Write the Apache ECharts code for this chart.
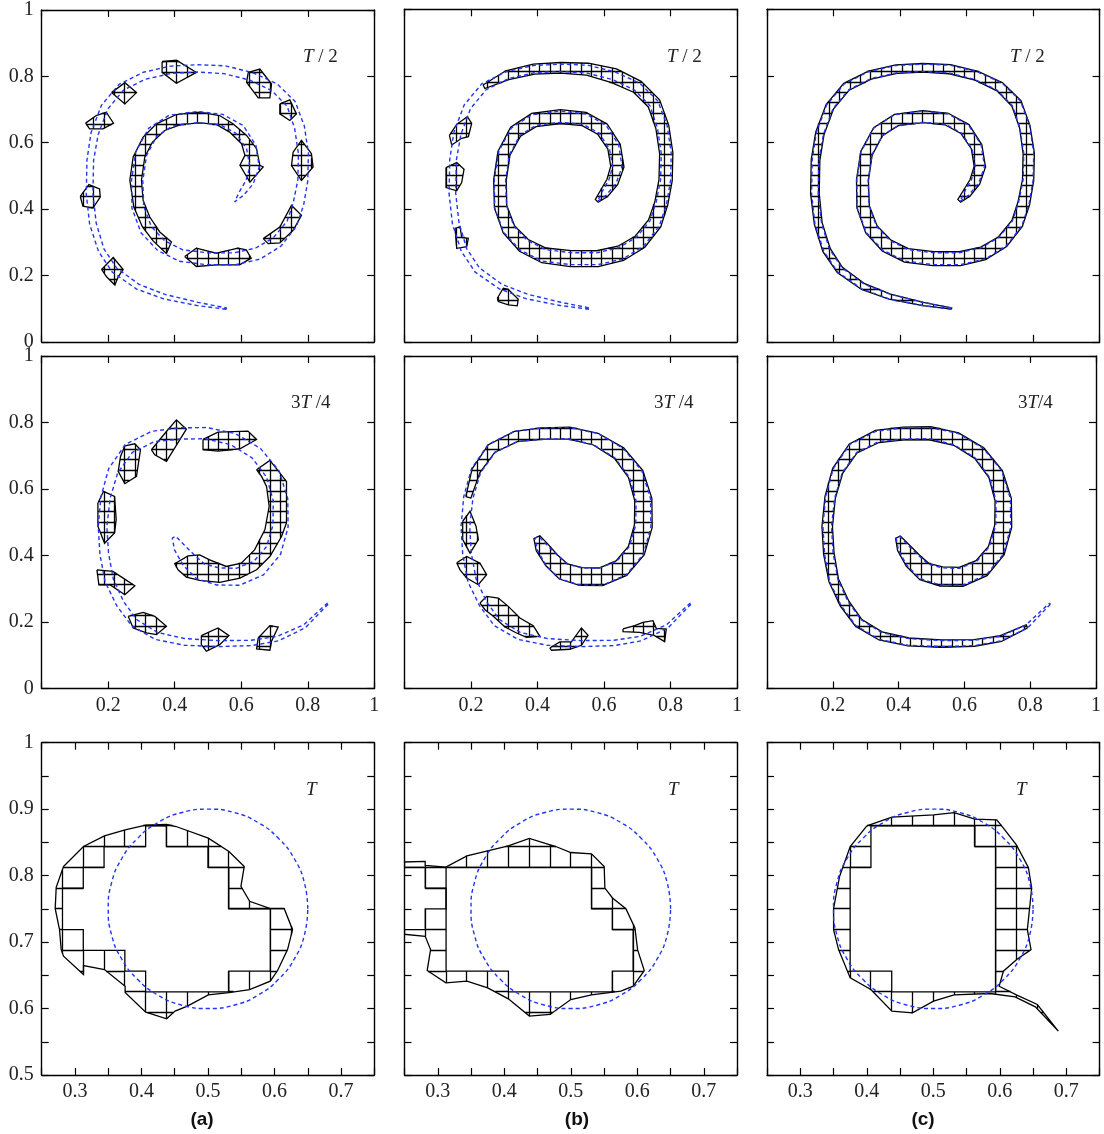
<!DOCTYPE html>
<html><head><meta charset="utf-8">
<script src="https://cdn.jsdelivr.net/npm/echarts@6/dist/echarts.min.js"></script>
<style>html,body{margin:0;padding:0;background:#fff}#c{width:1104px;height:1134px}</style>
</head><body><div id="c"></div>
<script>
// ---------- tick labels / texts ----------
const spiralYLabels = ['0', '0.2', '0.4', '0.6', '0.8', '1'];
const spiralXLabels = ['0.2', '0.4', '0.6', '0.8', '1'];
const circleXLabels = ['0.3', '0.4', '0.5', '0.6', '0.7'];
const circleYLabels = ['0.5', '0.6', '0.7', '0.8', '0.9', '1'];
const timeLabels = [['{i|T} / 2', '{i|T} / 2', '{i|T} / 2'], ['3{i|T} /4', '3{i|T} /4', '3{i|T}/4'], ['{i|T}', '{i|T}', '{i|T}']];
const panelLetters = ['(a)', '(b)', '(c)'];
const GRID_N = 32; // mesh cells per unit

// ---------- reference interface (blue) ----------
const t2Center = [[0.555,0.100],[0.469,0.114],[0.369,0.136],[0.289,0.166],[0.219,0.216],[0.179,0.276],[0.154,0.356],[0.144,0.446],[0.146,0.547],[0.159,0.627],[0.189,0.707],[0.239,0.767],[0.309,0.802],[0.389,0.820],[0.469,0.824],[0.550,0.820],[0.630,0.800],[0.700,0.767],[0.750,0.717],[0.775,0.647],[0.787,0.567],[0.785,0.486],[0.772,0.416],[0.752,0.356],[0.708,0.301],[0.650,0.266],[0.580,0.250],[0.500,0.250],[0.419,0.260],[0.359,0.290],[0.314,0.338],[0.289,0.406],[0.287,0.486],[0.299,0.567],[0.334,0.632],[0.389,0.667],[0.469,0.677],[0.540,0.670],[0.595,0.640],[0.630,0.587],[0.640,0.527],[0.625,0.481],[0.600,0.446],[0.578,0.424]];
const t2Hw = [0.002,0.005,0.007,0.008,0.009,0.009,0.010,0.010,0.010,0.011,0.011,0.011,0.011,0.011,0.011,0.012,0.012,0.013,0.014,0.015,0.015,0.015,0.016,0.016,0.017,0.018,0.018,0.018,0.018,0.018,0.018,0.018,0.017,0.017,0.017,0.017,0.017,0.016,0.016,0.015,0.014,0.012,0.008,0.003];
const t34Center = [[0.860,0.255],[0.790,0.187],[0.710,0.150],[0.630,0.137],[0.530,0.135],[0.430,0.140],[0.345,0.158],[0.278,0.198],[0.236,0.255],[0.203,0.325],[0.188,0.405],[0.183,0.487],[0.192,0.575],[0.215,0.655],[0.262,0.722],[0.335,0.758],[0.415,0.767],[0.495,0.768],[0.575,0.750],[0.645,0.708],[0.695,0.645],[0.718,0.568],[0.718,0.488],[0.697,0.415],[0.652,0.362],[0.590,0.336],[0.530,0.337],[0.478,0.352],[0.443,0.385],[0.413,0.425],[0.398,0.455]];
const t34Hw = [0.002,0.005,0.007,0.008,0.009,0.010,0.011,0.012,0.012,0.013,0.013,0.013,0.014,0.015,0.016,0.016,0.017,0.017,0.018,0.019,0.021,0.022,0.023,0.024,0.025,0.026,0.026,0.025,0.023,0.016,0.006];
const circleT = [[0.650,0.750],[0.645,0.789],[0.630,0.825],[0.606,0.856],[0.575,0.880],[0.539,0.895],[0.500,0.900],[0.461,0.895],[0.425,0.880],[0.394,0.856],[0.370,0.825],[0.355,0.789],[0.350,0.750],[0.355,0.711],[0.370,0.675],[0.394,0.644],[0.425,0.620],[0.461,0.605],[0.500,0.600],[0.539,0.605],[0.575,0.620],[0.606,0.644],[0.630,0.675],[0.645,0.711]];

// ---------- computed interfaces (black meshes) ----------
const hwB1 = [0,0,0,0,0,0,0,0,0,0,0,0.006,0.014,0.015,0.016,0.018,0.022,0.020,0.020,0.020,0.020,0.020,0.020,0.021,0.022,0.023,0.024,0.024,0.023,0.022,0.020,0.019,0.019,0.019,0.020,0.021,0.021,0.021,0.021,0.020,0.020,0.018,0.014,0.006];
const hwC1 = [0.002,0.005,0.008,0.010,0.011,0.012,0.012,0.013,0.013,0.013,0.013,0.013,0.013,0.013,0.013,0.014,0.014,0.015,0.016,0.016,0.017,0.017,0.018,0.018,0.019,0.020,0.021,0.021,0.021,0.021,0.020,0.019,0.018,0.018,0.018,0.018,0.018,0.018,0.018,0.017,0.017,0.016,0.013,0.006];
const hwB2 = [0,0,0,0,0,0,0,0,0,0,0,0,0.008,0.013,0.015,0.016,0.017,0.018,0.019,0.021,0.024,0.026,0.027,0.027,0.027,0.027,0.027,0.026,0.024,0.020,0.010];
const hwC2 = [0,0.005,0.009,0.010,0.011,0.012,0.013,0.014,0.015,0.015,0.016,0.016,0.016,0.017,0.018,0.019,0.019,0.020,0.020,0.021,0.023,0.025,0.026,0.027,0.028,0.029,0.029,0.028,0.026,0.019,0.008];

const a1InnerCoil = [[0.375,0.266],[0.335,0.304],[0.303,0.346],[0.277,0.406],[0.265,0.487],[0.275,0.557],[0.305,0.617],[0.345,0.657],[0.405,0.685],[0.475,0.692],[0.535,0.682],[0.575,0.657],[0.616,0.622],[0.646,0.582],[0.656,0.532],[0.666,0.527],[0.626,0.481],[0.596,0.532],[0.611,0.562],[0.601,0.597],[0.565,0.632],[0.525,0.655],[0.475,0.660],[0.420,0.655],[0.370,0.637],[0.333,0.602],[0.310,0.557],[0.300,0.487],[0.305,0.426],[0.325,0.376],[0.355,0.331],[0.390,0.301]];
const a1Bottom = [[0.430,0.257],[0.465,0.282],[0.525,0.267],[0.590,0.282],[0.615,0.277],[0.630,0.252],[0.595,0.232],[0.525,0.232],[0.465,0.227]];
const a1Blobs = [
  [[0.362,0.844],[0.405,0.849],[0.465,0.812],[0.405,0.779],[0.362,0.812]],
  [[0.621,0.812],[0.656,0.822],[0.691,0.777],[0.686,0.735],[0.651,0.735],[0.616,0.782]],
  [[0.716,0.717],[0.746,0.729],[0.766,0.687],[0.746,0.667],[0.716,0.687]],
  [[0.756,0.572],[0.781,0.607],[0.811,0.567],[0.816,0.527],[0.781,0.486],[0.751,0.531]],
  [[0.666,0.311],[0.716,0.346],[0.751,0.411],[0.781,0.381],[0.756,0.336],[0.716,0.298],[0.681,0.296]],
  [[0.210,0.751],[0.250,0.781],[0.285,0.751],[0.250,0.717]],
  [[0.132,0.659],[0.164,0.682],[0.194,0.692],[0.216,0.659],[0.184,0.642],[0.144,0.642]],
  [[0.116,0.438],[0.142,0.474],[0.174,0.461],[0.176,0.436],[0.154,0.403],[0.124,0.409]],
  [[0.180,0.218],[0.215,0.254],[0.245,0.218],[0.230,0.196],[0.220,0.171],[0.195,0.196]]
];
const b1Blobs = [
  [[0.135,0.621],[0.157,0.654],[0.189,0.677],[0.202,0.657],[0.192,0.617],[0.172,0.612],[0.142,0.592]],
  [[0.125,0.524],[0.157,0.539],[0.179,0.519],[0.172,0.479],[0.157,0.454],[0.125,0.464]],
  [[0.152,0.341],[0.167,0.346],[0.172,0.314],[0.192,0.311],[0.187,0.286],[0.157,0.281]],
  [[0.279,0.131],[0.297,0.161],[0.312,0.158],[0.342,0.128],[0.339,0.108],[0.312,0.111],[0.282,0.121]]
];
const a2Blobs = [
  [[0.250,0.730],[0.280,0.736],[0.297,0.718],[0.285,0.638],[0.250,0.616],[0.230,0.653],[0.237,0.698]],
  [[0.330,0.718],[0.375,0.773],[0.405,0.808],[0.435,0.780],[0.415,0.748],[0.375,0.683],[0.340,0.703]],
  [[0.485,0.749],[0.530,0.771],[0.620,0.774],[0.646,0.749],[0.596,0.721],[0.530,0.714],[0.485,0.718]],
  [[0.646,0.658],[0.686,0.686],[0.736,0.623],[0.736,0.498],[0.721,0.457],[0.686,0.397],[0.646,0.357],[0.596,0.332],[0.535,0.319],[0.475,0.325],[0.435,0.335],[0.410,0.357],[0.400,0.375],[0.440,0.399],[0.475,0.402],[0.505,0.387],[0.555,0.367],[0.600,0.377],[0.640,0.417],[0.671,0.477],[0.684,0.548],[0.676,0.608],[0.661,0.638]],
  [[0.169,0.558],[0.186,0.593],[0.219,0.578],[0.224,0.508],[0.219,0.468],[0.189,0.437],[0.169,0.488]],
  [[0.166,0.357],[0.214,0.352],[0.245,0.332],[0.280,0.309],[0.250,0.282],[0.205,0.312],[0.172,0.312]],
  [[0.260,0.217],[0.305,0.229],[0.340,0.217],[0.375,0.187],[0.345,0.162],[0.315,0.167],[0.275,0.182]],
  [[0.480,0.159],[0.530,0.182],[0.563,0.159],[0.535,0.132],[0.495,0.112],[0.480,0.132]],
  [[0.651,0.152],[0.686,0.189],[0.711,0.185],[0.691,0.142],[0.686,0.115],[0.646,0.119]]
];
const b2Blobs = [
  [[0.175,0.503],[0.197,0.533],[0.215,0.488],[0.222,0.448],[0.197,0.407],[0.175,0.448]],
  [[0.157,0.378],[0.187,0.397],[0.227,0.377],[0.247,0.342],[0.222,0.312],[0.187,0.332],[0.167,0.357]],
  [[0.227,0.257],[0.247,0.277],[0.282,0.272],[0.312,0.247],[0.347,0.212],[0.387,0.189],[0.407,0.157],[0.367,0.154],[0.337,0.167],[0.302,0.185],[0.267,0.217],[0.242,0.237]],
  [[0.437,0.122],[0.467,0.140],[0.502,0.140],[0.532,0.182],[0.552,0.160],[0.532,0.130],[0.497,0.118],[0.442,0.115]],
  [[0.657,0.179],[0.692,0.189],[0.717,0.199],[0.747,0.204],[0.757,0.181],[0.787,0.179],[0.782,0.141],[0.752,0.159],[0.707,0.169],[0.657,0.171]]
];
const a3Outer = [[0.2828,0.8138],[0.3128,0.8438],[0.3443,0.8599],[0.3754,0.8689],[0.4064,0.8759],[0.4379,0.8769],[0.4519,0.8739],[0.5005,0.8564],[0.5315,0.8363],[0.5545,0.8138],[0.5495,0.7838],[0.5626,0.7613],[0.5936,0.7503],[0.6146,0.7503],[0.6271,0.7187],[0.6196,0.6887],[0.6046,0.6572],[0.5936,0.6411],[0.5626,0.6286],[0.5315,0.6240],[0.5005,0.6206],[0.4690,0.6036],[0.4505,0.5961],[0.4379,0.5846],[0.4064,0.5946],[0.3754,0.6240],[0.3754,0.6336],[0.3443,0.6587],[0.3128,0.6647],[0.3128,0.6512],[0.2828,0.6787],[0.2793,0.6887],[0.2768,0.7187],[0.2703,0.7503],[0.2718,0.7823]];
const a3Cells = [[9,25],[10,25],[10,26],[11,26],[11,27],[13,27],[13,28],[14,28],[14,27],[16,27],[16,26],[17,26],[17,24],[19,24],[19,21],[17,21],[17,20],[13,20],[13,21],[12,21],[12,22],[10,22],[10,23],[9,23]];
const b3Outer = [[0.230,0.8200],[0.2811,0.8213],[0.2811,0.8153],[0.3122,0.8128],[0.3439,0.8298],[0.3750,0.8373],[0.4061,0.8448],[0.4377,0.8559],[0.4774,0.8438],[0.5000,0.8348],[0.5311,0.8328],[0.5502,0.8138],[0.5512,0.7813],[0.5627,0.7663],[0.5828,0.7503],[0.5964,0.7212],[0.6004,0.6887],[0.6104,0.6572],[0.5939,0.6336],[0.5753,0.6261],[0.5311,0.6206],[0.5000,0.6136],[0.4689,0.5911],[0.4377,0.5886],[0.4061,0.6146],[0.3750,0.6311],[0.3439,0.6411],[0.3122,0.6386],[0.2841,0.6572],[0.2892,0.6887],[0.2811,0.7087],[0.230,0.7137]];
const b3Cells = [[10,26],[17,26],[17,24],[18,24],[18,23],[19,23],[19,21],[18,21],[18,20],[13,20],[13,21],[10,21]];
const b3Gap = [[7.4,26],[9,26],[9,25],[10,25],[10,24],[9,24],[9,23],[7.4,23]];
const c3Outer = [[0.4001,0.8749],[0.4377,0.8879],[0.5003,0.8914],[0.5313,0.8949],[0.5623,0.8849],[0.5953,0.8839],[0.6028,0.8749],[0.6249,0.8463],[0.6429,0.8123],[0.6479,0.7813],[0.6414,0.7187],[0.6469,0.6887],[0.6254,0.6737],[0.6054,0.6562],[0.5990,0.6336],[0.6249,0.6206],[0.6564,0.6061],[0.6879,0.5661],[0.6534,0.6026],[0.6229,0.6176],[0.5853,0.6226],[0.5313,0.6206],[0.5003,0.6111],[0.4687,0.5936],[0.4377,0.5961],[0.4061,0.6286],[0.3751,0.6461],[0.3576,0.6887],[0.3501,0.7187],[0.3501,0.7503],[0.3591,0.7988],[0.3751,0.8438]];
const c3Cells = [[13,28],[18,28],[18,27],[19,27],[19,20],[14,20],[14,21],[12,21],[12,26],[13,26]];

// ---------- helpers ----------
function filamentRing(center, hw, i0, i1) {
  const L = [], R = [];
  for (let i = i0; i <= i1; i++) {
    const a = center[Math.max(i - 1, i0)], b = center[Math.min(i + 1, i1)];
    let dx = b[0] - a[0], dy = b[1] - a[1];
    const n = Math.hypot(dx, dy) || 1; dx /= n; dy /= n;
    const p = center[i], w = hw[i];
    L.push([p[0] - dy * w, p[1] + dx * w]);
    R.push([p[0] + dy * w, p[1] - dx * w]);
  }
  return L.concat(R.reverse());
}
const cellRing = ring => ring.map(p => [p[0] / GRID_N, p[1] / GRID_N]);
function clipGrid(rings, horizontal) {
  const segs = [];
  for (let k = 0; k <= GRID_N; k++) {
    const c = k / GRID_N, ts = [];
    rings.forEach(ring => {
      for (let i = 0; i < ring.length; i++) {
        const p = ring[i], q = ring[(i + 1) % ring.length];
        const a = horizontal ? p[1] : p[0], b = horizontal ? q[1] : q[0];
        if ((a <= c && c < b) || (b <= c && c < a)) {
          const t = (c - a) / (b - a);
          ts.push(horizontal ? p[0] + t * (q[0] - p[0]) : p[1] + t * (q[1] - p[1]));
        }
      }
    });
    ts.sort((u, v) => u - v);
    for (let m = 0; m + 1 < ts.length; m += 2)
      segs.push(horizontal ? [[ts[m], c], [ts[m + 1], c]] : [[c, ts[m]], [c, ts[m + 1]]]);
  }
  return segs;
}

// ---------- regions per panel ----------
const single = r => [r];
const panelMeshes = [
  [single(a1InnerCoil), single(a1Bottom)].concat(a1Blobs.map(single)),
  [[filamentRing(t2Center, hwB1, 11, 43)]].concat(b1Blobs.map(single)),
  [[filamentRing(t2Center, hwC1, 0, 43)]],
  a2Blobs.map(single),
  [[filamentRing(t34Center, hwB2, 12, 30)]].concat(b2Blobs.map(single)),
  [[filamentRing(t34Center, hwC2, 1, 30)]],
  [[a3Outer, cellRing(a3Cells)]],
  [[b3Outer, cellRing(b3Cells), cellRing(b3Gap)]],
  [[c3Outer, cellRing(c3Cells)]]
];
const blueT2 = filamentRing(t2Center, t2Hw, 0, 43);
const blueT34 = filamentRing(t34Center, t34Hw, 0, 30);
const closeRing = r => r.concat([r[0]]);
const blueRefs = [blueT2, blueT34, circleT];

// ---------- layout ----------
const colLeft = [41.7, 404.5, 767], rowTop = [9.3, 356, 742.7], W = 332.6, H = 332.5;
const FONT = 'Liberation Serif', BLUE = '#2236f0';
const grids = [], xAxes = [], yAxes = [], series = [], graphics = [];
const findLabel = (arr, v) => arr.find(s => Math.abs(parseFloat(s) - v) < 1e-6) || '';

for (let r = 0; r < 3; r++) for (let c = 0; c < 3; c++) {
  const g = r * 3 + c, zoomed = r === 2;
  grids.push({ left: colLeft[c], top: rowTop[r], width: W, height: zoomed ? 332.3 : H });
  const common = {
    gridIndex: g, type: 'value', interval: zoomed ? 0.05 : 0.2,
    splitLine: { show: false },
    axisLine: { show: true, onZero: false, lineStyle: { color: '#000', width: 1.4 } },
    axisTick: { show: true, inside: true, length: 7, lineStyle: { color: '#000', width: 1.2 } }
  };
  const xr = zoomed ? [0.25, 0.75] : [0, 1], yr = zoomed ? [0.5, 1] : [0, 1];
  const lab = { fontFamily: FONT, fontSize: 20, color: '#222', showMinLabel: true, showMaxLabel: true };
  xAxes.push(Object.assign({}, common, { min: xr[0], max: xr[1], position: 'bottom',
    axisLabel: Object.assign({}, lab, { show: r > 0, margin: 7,
      formatter: v => findLabel(zoomed ? circleXLabels : spiralXLabels, v) }) }));
  xAxes.push(Object.assign({}, common, { min: xr[0], max: xr[1], position: 'top', axisLabel: { show: false } }));
  yAxes.push(Object.assign({}, common, { min: yr[0], max: yr[1], position: 'left',
    axisLabel: Object.assign({}, lab, { show: c === 0, margin: 8,
      formatter: v => findLabel(zoomed ? circleYLabels : spiralYLabels, v) }) }));
  yAxes.push(Object.assign({}, common, { min: yr[0], max: yr[1], position: 'right', axisLabel: { show: false } }));

  const regions = panelMeshes[g];
  series.push({
    type: 'custom', xAxisIndex: 2 * g, yAxisIndex: 2 * g, clip: true, silent: true, z: 2,
    data: regions.map((_, i) => [0.5, 0.75, i]),
    renderItem: function (params, api) {
      const rings = regions[api.value(2)];
      const children = [];
      rings.forEach(ring => {
        const pts = ring.map(p => api.coord(p));
        pts.push(pts[0]);
        children.push({ type: 'polyline', shape: { points: pts }, style: { stroke: '#000', fill: 'none', lineWidth: 1.3 } });
      });
      [false, true].forEach(hz => {
        clipGrid(rings, hz).forEach(s => {
          const p1 = api.coord(s[0]), p2 = api.coord(s[1]);
          if (hz) { const y = Math.round(p1[1] - 0.5) + 0.5; p1[1] = y; p2[1] = y; }
          else { const x = Math.round(p1[0] - 0.5) + 0.5; p1[0] = x; p2[0] = x; }
          children.push({ type: 'line', shape: { x1: p1[0], y1: p1[1], x2: p2[0], y2: p2[1] }, style: { stroke: '#000', lineWidth: 1.3 } });
        });
      });
      return { type: 'group', children };
    }
  });
  series.push({
    type: 'line', xAxisIndex: 2 * g, yAxisIndex: 2 * g, z: 3, clip: true, silent: true,
    data: closeRing(blueRefs[r]), showSymbol: false, symbol: 'none', smooth: r === 2,
    lineStyle: { color: BLUE, width: 1.4, type: [4, 3] }
  });
}

const timePos = [[[303, 57], [667, 57], [1010, 57]], [[291, 403], [654, 403], [1018, 403]], [[306, 790], [668, 790], [1016, 790]]];
for (let r = 0; r < 3; r++) for (let c = 0; c < 3; c++) {
  graphics.push({ type: 'text', x: timePos[r][c][0], y: timePos[r][c][1], silent: true,
    style: { text: timeLabels[r][c], fontFamily: FONT, fontSize: 19, fill: '#222', verticalAlign: 'middle', align: 'left',
      rich: { i: { fontStyle: 'italic', fontFamily: FONT, fontSize: 19, fill: '#222' } } } });
}
const letterX = [202, 577, 923];
panelLetters.forEach((t, c) => graphics.push({ type: 'text', x: letterX[c], y: 1120, silent: true,
  style: { text: t, fontFamily: 'Liberation Sans', fontWeight: 'bold', fontSize: 19, fill: '#111', align: 'center', verticalAlign: 'middle' } }));

const chart = echarts.init(document.getElementById('c'), null, { renderer: 'canvas' });
chart.setOption({ animation: false, backgroundColor: '#fff', grid: grids, xAxis: xAxes, yAxis: yAxes, series, graphic: graphics });
</script></body></html>
